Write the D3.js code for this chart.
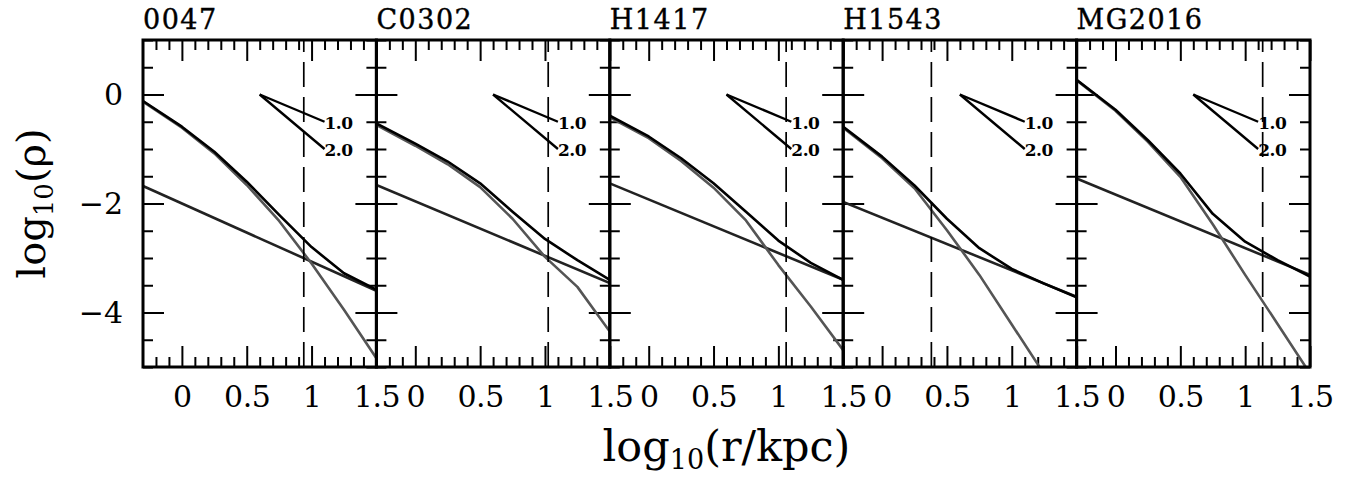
<!DOCTYPE html>
<html><head><meta charset="utf-8">
<script src="https://cdn.jsdelivr.net/npm/d3@7"></script>
<style>body{margin:0;background:#fff}svg{display:block}</style>
</head><body>
<svg id="chart" width="1350" height="479"></svg>
<script>
// ---------------- data ----------------
const panelNames = ["0047", "C0302", "H1417", "H1543", "MG2016"];
const radiusGrid = [-0.3, 0, 0.25, 0.5, 0.75, 1.0, 1.25, 1.5];
// total density profile (black)
const totalDensity = [
  [-0.12, -0.59, -1.05, -1.60, -2.21, -2.80, -3.28, -3.58],
  [-0.53, -0.90, -1.23, -1.63, -2.15, -2.65, -3.04, -3.40],
  [-0.39, -0.77, -1.17, -1.63, -2.15, -2.68, -3.09, -3.40],
  [-0.59, -1.14, -1.67, -2.28, -2.82, -3.20, -3.47, -3.72],
  [0.27, -0.28, -0.84, -1.45, -2.19, -2.70, -3.04, -3.34]
];
// inner component (grey)
const innerDensity = [
  [-0.13, -0.61, -1.08, -1.66, -2.32, -3.10, -3.95, -4.84],
  [-0.56, -0.94, -1.28, -1.70, -2.28, -2.98, -3.53, -4.35],
  [-0.42, -0.80, -1.22, -1.71, -2.31, -3.13, -3.89, -4.69],
  [-0.61, -1.17, -1.72, -2.49, -3.31, -4.22, -5.13, -6.10],
  [0.26, -0.30, -0.87, -1.51, -2.38, -3.31, -4.21, -5.12]
];
// outer power-law component (straight)
const outerRadius = [-0.3, 1.5];
const outerDensity = [
  [-1.68, -3.60],
  [-1.66, -3.46],
  [-1.63, -3.40],
  [-1.97, -3.71],
  [-1.54, -3.31]
];
// dashed vertical marker per panel
const markerRadius = [0.94, 1.025, 1.06, 0.38, 1.135];
// slope key
const slopeValues = [1.0, 2.0];
const slopeLabels = ["1.0", "2.0"];
const slopeOrigin = [0.6, 0.0];
const slopeRun = 0.5;
// axes
const xDomain = [-0.3, 1.5];
const yDomain = [-5, 1];
const xMajorTicks = [0, 0.5, 1, 1.5];
const xTickLabels = ["0", "0.5", "1", "1.5"];
const yMajorTicks = [0, -2, -4];
const yTickLabels = ["0", "\u22122", "\u22124"];

// ---------------- layout ----------------
const svg = d3.select("#chart");
const leftX = 143, topY = 40, panelW = 233.4, panelH = 327;
const font = "'DejaVu Serif', serif";

const x = d3.scaleLinear().domain(xDomain).range([0, panelW]);
const y = d3.scaleLinear().domain(yDomain).range([panelH, 0]);

const xMinor = d3.range(-2, 16).map(d => +(d / 10).toFixed(2)).filter(v => !xMajorTicks.includes(v));
const yMinor = d3.range(-10, 3).map(d => d / 2).filter(v => !yMajorTicks.includes(v));

svg.append("defs").append("clipPath").attr("id", "clip")
  .append("rect").attr("x", 0).attr("y", 0).attr("width", panelW).attr("height", panelH);

const line = d3.line().x(d => x(d[0])).y(d => y(d[1]));

panelNames.forEach((name, i) => {
  const g = svg.append("g").attr("transform", `translate(${leftX + i * panelW},${topY})`);

  const styleAxis = sel => {
    sel.select(".domain").remove();
    sel.selectAll(".tick line").attr("stroke", "#000").attr("stroke-width", 2);
    sel.selectAll("text").attr("font-family", font).attr("font-size", 30).attr("fill", "#000");
  };
  // bottom
  g.append("g").attr("transform", `translate(0,${panelH})`)
    .call(d3.axisBottom(x).tickValues(xMinor).tickSize(-10).tickFormat(""))
    .call(styleAxis);
  g.append("g").attr("transform", `translate(0,${panelH})`)
    .call(d3.axisBottom(x).tickValues(xMajorTicks).tickSize(-21).tickPadding(19)
      .tickFormat((d, k) => xTickLabels[k]))
    .call(styleAxis)
    .call(s => s.selectAll("text").attr("letter-spacing", -0.5));
  // top
  g.append("g").call(d3.axisTop(x).tickValues(xMinor).tickSize(-10).tickFormat("")).call(styleAxis);
  g.append("g").call(d3.axisTop(x).tickValues(xMajorTicks).tickSize(-21).tickFormat("")).call(styleAxis);
  // left
  g.append("g").call(d3.axisLeft(y).tickValues(yMinor).tickSize(-10).tickFormat("")).call(styleAxis);
  g.append("g").call(d3.axisLeft(y).tickValues(yMajorTicks).tickSize(-21).tickPadding(20)
      .tickFormat((d, k) => i === 0 ? yTickLabels[k] : ""))
    .call(styleAxis);
  // right
  g.append("g").attr("transform", `translate(${panelW},0)`)
    .call(d3.axisRight(y).tickValues(yMinor).tickSize(-10).tickFormat("")).call(styleAxis);
  g.append("g").attr("transform", `translate(${panelW},0)`)
    .call(d3.axisRight(y).tickValues(yMajorTicks).tickSize(-21).tickFormat("")).call(styleAxis);

  // curves
  const plot = g.append("g").attr("clip-path", "url(#clip)");
  plot.append("path")
    .attr("d", line(outerRadius.map((r, k) => [r, outerDensity[i][k]])))
    .attr("fill", "none").attr("stroke", "#222").attr("stroke-width", 2.6);
  plot.append("path")
    .attr("d", line(radiusGrid.map((r, k) => [r, innerDensity[i][k]])))
    .attr("fill", "none").attr("stroke", "#555").attr("stroke-width", 2.6)
    .attr("stroke-linejoin", "round");
  plot.append("path")
    .attr("d", line(radiusGrid.map((r, k) => [r, totalDensity[i][k]])))
    .attr("fill", "none").attr("stroke", "#000").attr("stroke-width", 2.6)
    .attr("stroke-linejoin", "round");

  // dashed marker (drawn bottom to top)
  plot.append("path")
    .attr("d", line([[markerRadius[i], yDomain[0]], [markerRadius[i], yDomain[1]]]))
    .attr("fill", "none").attr("stroke", "#000").attr("stroke-width", 1.7)
    .attr("stroke-dasharray", "25,10");

  // slope key
  slopeValues.forEach((s, k) => {
    const x1 = slopeOrigin[0] + slopeRun, y1 = slopeOrigin[1] - s * slopeRun;
    g.append("path").attr("d", line([slopeOrigin, [x1, y1]]))
      .attr("fill", "none").attr("stroke", "#000").attr("stroke-width", 2.4);
    g.append("text").attr("x", x(x1) + 0).attr("y", y(y1) + 7)
      .attr("font-family", font).attr("font-weight", "bold").attr("font-size", 17)
      .attr("letter-spacing", -0.5)
      .text(slopeLabels[k]);
  });

  // frame
  g.append("rect").attr("x", 0).attr("y", 0).attr("width", panelW).attr("height", panelH)
    .attr("fill", "none").attr("stroke", "#000").attr("stroke-width", 3);

  // title
  g.append("text").attr("x", 0).attr("y", -11)
    .attr("font-family", font).attr("font-size", 27).attr("letter-spacing", 1.5)
    .attr("stroke", "#000").attr("stroke-width", 0.4)
    .text(name);
});

// axis titles
const xt = svg.append("text").attr("x", leftX + 2.5 * panelW).attr("y", 461)
  .attr("text-anchor", "middle").attr("font-family", font).attr("font-size", 43);
xt.append("tspan").text("log");
xt.append("tspan").attr("font-size", 27).attr("dy", 8).text("10");
xt.append("tspan").attr("dy", -8).text("(r/kpc)");

const yt = svg.append("text")
  .attr("transform", `translate(45,${topY + panelH / 2}) rotate(-90)`)
  .attr("text-anchor", "middle").attr("font-family", font).attr("font-size", 40);
yt.append("tspan").text("log");
yt.append("tspan").attr("font-size", 26).attr("dy", 8).text("10");
yt.append("tspan").attr("dy", -8).text("(\u03C1)");
</script>
</body></html>
